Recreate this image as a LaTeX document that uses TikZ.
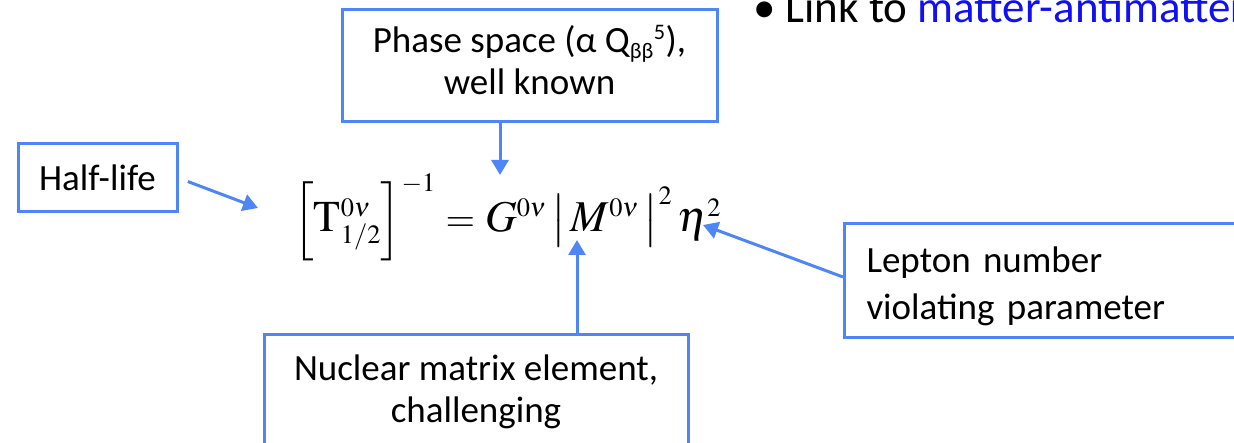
\documentclass[tikz,border=0pt]{standalone}
\usepackage{mathptmx}
\usepackage[no-math]{fontspec}
\setmainfont{Carlito}
\renewcommand\defaultscriptratio{.6}
\usetikzlibrary{positioning, arrows.meta, calc}
\definecolor{frame}{HTML}{4F86F7}
\definecolor{ink}{HTML}{000000}
\definecolor{linkblue}{HTML}{1010F0}
\tikzset{
  ndbox/.style  = {draw=frame, line width=3pt, fill=white, align=center, inner xsep=14pt,
                   font=\fontsize{37}{42}\selectfont, text=ink},
  ndgo/.style   = {-{Triangle[length=15pt,width=17pt]}, draw=frame, line width=3pt},
  ndeq/.style   = {font=\fontsize{44}{50}\selectfont, inner sep=0pt, text=ink},
  ndlink/.style = {font=\fontsize{45}{52}\selectfont, inner sep=0pt, anchor=base west, text=ink},
}
\newcommand{\ndup}[1]{\rule{0pt}{#1}}
\newcommand{\nddown}[1]{\rule[-#1]{0pt}{0pt}}
\newcommand{\ndequals}{\mathrel{\hbox{\fontsize{38}{42}\selectfont$=$}}}

\begin{document}
\begin{tikzpicture}[x=1pt, y=-1pt]
\useasboundingbox (0,0) rectangle (1234,443);

\node[ndlink] (link) at (753,23) {• Link to \textcolor{linkblue}{matter-antimatter}};

\node[ndbox, minimum width=159pt, minimum height=68pt] (halflife) at (97.5,178) {Half-life};
\node[ndbox, minimum width=375pt, minimum height=112pt] (phase) at (529.5,66)
  {\ndup{30pt}Phase space (α Q\textsubscript{ββ}\textsuperscript{5}),\\well known\nddown{14pt}};
\node[ndbox, anchor=north, minimum width=424pt, inner ysep=20pt] (nuclear) at (476,333)
  {\ndup{26pt}Nuclear matrix element,\\challenging};
\node[ndbox, anchor=west, minimum width=420pt, minimum height=114pt, inner xsep=22pt,
      text width=376pt, align=left, font=\fontsize{37}{47}\selectfont] (lepton) at (843,281)
  {\ndup{38pt}Lepton number\\violating parameter\nddown{8pt}};

\node[ndeq, anchor=base west] (eq) at (293,232)
  {$\left[\rule[-20pt]{0pt}{50pt}\mathrm{T}^{0\nu}_{1/2}\right]^{-1}\ndequals G^{0\nu}
    \left|\mkern2mu\rule[-17pt]{0pt}{50pt}M^{0\nu}\mkern2mu\right|^{2}\eta^{2}$};

\coordinate (hltip) at (258,208);
\coordinate (phtip) at (500,175);
\coordinate (nmtip) at (577,240);
\coordinate (lntip) at (703,225);

\draw[ndgo, shorten <=10pt] (halflife.east) -- (hltip);
\draw[ndgo] (phase.south -| phtip) -- (phtip);
\draw[ndgo] (nuclear.north -| nmtip) -- (nmtip);
\draw[ndgo] ([yshift=4pt]lepton.west) -- (lntip);
\end{tikzpicture}
\end{document}
